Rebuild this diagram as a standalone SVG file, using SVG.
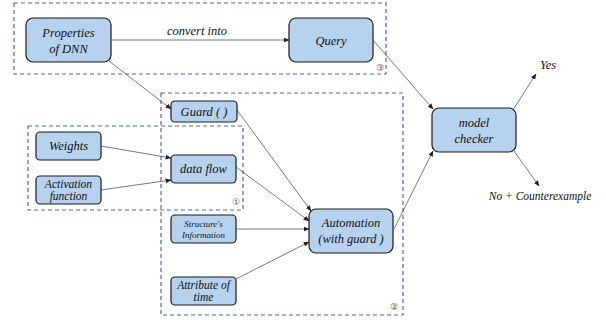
<svg xmlns="http://www.w3.org/2000/svg" width="606" height="322" viewBox="0 0 606 322">
<style>
.n{fill:#b7d2ee;stroke:#1a1a1a;stroke-width:1.2}
.g{fill:none;stroke:#4b6aa6;stroke-width:1.2;stroke-dasharray:4 3}
text{font-family:"Liberation Serif","DejaVu Serif",serif}
.t{font-style:italic;font-size:12.5px;fill:#111;text-anchor:middle}
.m{font-size:11.5px}
.s{font-size:9px}
.c{stroke:#555;stroke-width:0.8;fill:none;marker-end:url(#a)}
.num{font-family:"DejaVu Sans",sans-serif;font-size:9px;fill:#555;text-anchor:middle}
</style>
<defs>
<marker id="a" viewBox="0 0 10 10" refX="9" refY="5" markerWidth="6" markerHeight="6" orient="auto" markerUnits="userSpaceOnUse">
<path d="M0,1 L10,5 L0,9 z" fill="#222"/>
</marker>
</defs>
<g id="groups">
<rect class="g" x="14" y="3" width="372" height="71"/>
<rect class="g" x="161" y="93" width="242" height="222"/>
<rect class="g" x="28" y="126" width="215" height="84"/>
<text class="num" x="380" y="71">③</text>
<text class="num" x="236" y="205">①</text>
<text class="num" x="394" y="310">②</text>
</g>
<g id="connectors">
<line class="c" x1="111" y1="40" x2="289" y2="40"/>
<text class="t" x="197" y="35">convert into</text>
<line class="c" x1="109" y1="61" x2="171" y2="109"/>
<line class="c" x1="373" y1="40" x2="433" y2="109"/>
<line class="c" x1="237" y1="110" x2="311" y2="211"/>
<line class="c" x1="101" y1="146" x2="171" y2="158"/>
<line class="c" x1="101" y1="190" x2="171" y2="180"/>
<line class="c" x1="236" y1="167" x2="309" y2="221"/>
<line class="c" x1="236" y1="229" x2="309" y2="229"/>
<line class="c" x1="236" y1="279" x2="309" y2="242"/>
<line class="c" x1="394" y1="229" x2="433" y2="151"/>
<line class="c" x1="513" y1="110" x2="536" y2="74"/>
<line class="c" x1="514" y1="151" x2="539" y2="186"/>
</g>
<g id="properties">
<rect class="n" x="26" y="18" width="85" height="44" rx="7"/>
<text class="t" x="68.5" y="37">Properties</text>
<text class="t" x="68.5" y="53">of DNN</text>
</g>
<g id="query">
<rect class="n" x="289" y="18" width="84" height="44" rx="7"/>
<text class="t" x="331" y="45">Query</text>
</g>
<g id="guard">
<rect class="n" x="171" y="101" width="66" height="21" rx="4"/>
<text class="t" x="204" y="116">Guard ( )</text>
</g>
<g id="weights">
<rect class="n" x="36" y="132" width="65" height="28" rx="4"/>
<text class="t" x="68.5" y="150">Weights</text>
</g>
<g id="activation">
<rect class="n" x="36" y="176" width="65" height="28" rx="4"/>
<text class="t m" x="68.5" y="188">Activation</text>
<text class="t m" x="68.5" y="200">function</text>
</g>
<g id="dataflow">
<rect class="n" x="171" y="155" width="65" height="28" rx="4"/>
<text class="t" x="203.5" y="173">data flow</text>
</g>
<g id="structure">
<rect class="n" x="171" y="215" width="65" height="28" rx="4"/>
<text class="t s" x="203.5" y="227">Structure's</text>
<text class="t s" x="203.5" y="237.5">Information</text>
</g>
<g id="attribute">
<rect class="n" x="171" y="277" width="65" height="28" rx="4"/>
<text class="t m" x="203.5" y="289">Attribute of</text>
<text class="t m" x="203.5" y="301">time</text>
</g>
<g id="automation">
<rect class="n" x="309" y="209" width="84" height="44" rx="7"/>
<text class="t" x="351" y="227">Automation</text>
<text class="t" x="351" y="243">(with guard )</text>
</g>
<g id="modelchecker">
<rect class="n" x="432" y="108" width="84" height="44" rx="7"/>
<text class="t" x="474" y="127">model</text>
<text class="t" x="474" y="143">checker</text>
</g>
<g id="outputs">
<text class="t" x="548" y="69">Yes</text>
<text class="t" x="540" y="200" style="font-size:11.5px">No + Counterexample</text>
</g>
</svg>
